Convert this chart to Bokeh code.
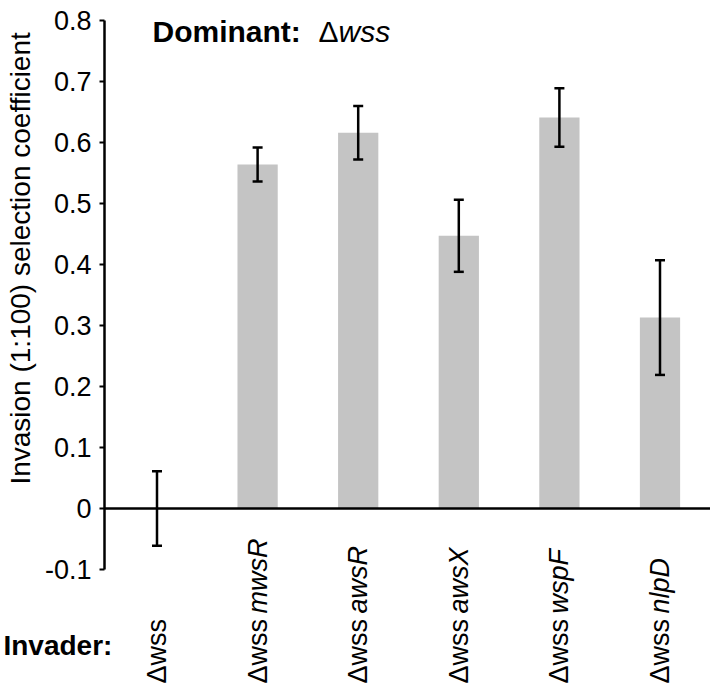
import math
from bokeh.plotting import figure
from bokeh.models import Range1d, FixedTicker, Whisker, TeeHead, ColumnDataSource, Label
from bokeh.core.properties import value
from bokeh.embed import file_html
from bokeh.resources import INLINE

# ---- data ----
prefixes = ["Δwss", "Δwss", "Δwss", "Δwss", "Δwss", "Δwss"]
genes = ["", "mwsR", "awsR", "awsX", "wspF", "nlpD"]
values = [0.0, 0.564, 0.616, 0.447, 0.641, 0.313]
errors = [0.061, 0.028, 0.044, 0.059, 0.048, 0.094]
tick_values = [-0.1, 0.0, 0.1, 0.2, 0.3, 0.4, 0.5, 0.6, 0.7, 0.8]
tick_labels = ["-0.1", "0", "0.1", "0.2", "0.3", "0.4", "0.5", "0.6", "0.7", "0.8"]
y_label = "Invasion (1:100) selection coefficient"
dominant_label = "Dominant:"
dominant_strain = ("Δ", "wss")
invader_label = "Invader:"

idx = list(range(len(values)))
FONT = "Liberation Sans"

src = ColumnDataSource(dict(
    x=idx,
    top=values,
    upper=[v + e for v, e in zip(values, errors)],
    lower=[v - e for v, e in zip(values, errors)],
))

X_START, X_END = -1.5557, 5.502
AXIS_X = -0.5219

p = figure(width=710, height=689,
           x_range=Range1d(X_START, X_END), y_range=Range1d(-0.2967, 0.8328),
           output_backend="svg", toolbar_location=None,
           min_border_left=0, min_border_right=0, min_border_top=0, min_border_bottom=0)
p.grid.visible = False
p.outline_line_color = None
p.background_fill_color = "white"
p.border_fill_color = "white"

# bars
p.vbar(x="x", top="top", width=0.4, source=src, fill_color="#c4c4c4", line_color=None)

# error bars
w = Whisker(base="x", upper="upper", lower="lower", source=src, level="overlay",
            line_color="black", line_width=2.5,
            upper_head=TeeHead(size=10, line_width=2.5, line_color="black"),
            lower_head=TeeHead(size=10, line_width=2.5, line_color="black"))
p.add_layout(w)

# x axis as the zero line
xa = p.xaxis[0]
xa.fixed_location = 0
xa.bounds = (AXIS_X, X_END)
xa.ticker = FixedTicker(ticks=[])
xa.axis_line_width = 2.5
xa.axis_line_color = "black"
xa.major_tick_line_color = None
xa.minor_tick_line_color = None

# y axis
ya = p.yaxis[0]
ya.fixed_location = AXIS_X
ya.bounds = (-0.1, 0.8)
ya.ticker = FixedTicker(ticks=tick_values)
ya.major_label_overrides = {v: s for v, s in zip(tick_values, tick_labels)}
ya.major_tick_out = 5
ya.major_tick_in = 0
ya.minor_tick_out = 0
ya.minor_tick_in = 0
ya.axis_line_width = 2.5
ya.axis_line_color = "black"
ya.major_tick_line_width = 2
ya.major_tick_line_color = "black"
ya.major_label_text_font = FONT
ya.major_label_text_font_size = "27px"
ya.major_label_text_color = "black"
ya.major_label_standoff = 8

# y axis title
p.add_layout(Label(x=-1.357, y=0.41, text=y_label, angle=math.pi / 2,
                   text_align="center", text_baseline="middle",
                   text_font=FONT, text_font_size="28px", text_color="black"))

# dominant header
p.add_layout(Label(x=-0.045, y=0.782, text=dominant_label, text_align="left",
                   text_baseline="alphabetic", text_font=FONT, text_font_size="30px",
                   text_font_style="bold", text_color="black"))
p.add_layout(Label(x=1.605, y=0.782, text=dominant_strain[0], text_align="left",
                   text_baseline="alphabetic", text_font=FONT, text_font_size="30px",
                   text_color="black"))
p.add_layout(Label(x=1.605, y=0.782, x_offset=20, text=dominant_strain[1], text_align="left",
                   text_baseline="alphabetic", text_font=FONT, text_font_size="30px",
                   text_font_style="italic", text_color="black"))

# invader row
p.add_layout(Label(x=-1.526, y=-0.2246, text=invader_label, text_align="left",
                   text_baseline="alphabetic", text_font=FONT, text_font_size="28px",
                   text_font_style="bold", text_color="black"))

# category labels (rotated)
lab_y = [-0.287] * len(idx)
p.text(x=idx, y=lab_y, text=prefixes, angle=math.pi / 2,
       text_align="left", text_baseline="middle",
       text_font=value(FONT), text_font_size="27px", text_color="black")
p.text(x=idx[1:], y=lab_y[1:], text=genes[1:], angle=math.pi / 2, y_offset=-70,
       text_align="left", text_baseline="middle",
       text_font=value(FONT), text_font_size="27px", text_font_style="italic",
       text_color="black")

open("out.html", "w").write(file_html(p, INLINE))
